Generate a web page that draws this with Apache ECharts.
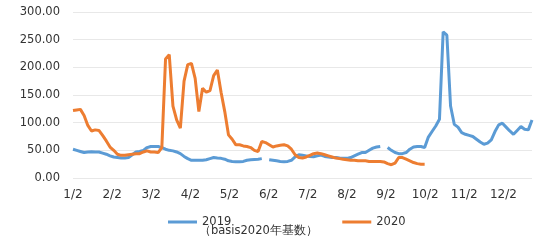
<!DOCTYPE html>
<html>
<head>
<meta charset="utf-8">
<script src="https://cdn.jsdelivr.net/npm/echarts@6/dist/echarts.min.js"></script>
<style>
html,body{margin:0;padding:0;background:#fff;}
#c{width:552px;height:245px;}
</style>
</head>
<body>
<div id="c"></div>
<script>
// Tick labels (one per month)
const tickLabels = ["1/2","2/2","3/2","4/2","5/2","6/2","7/2","8/2","9/2","10/2","11/2","12/2"];
// samples between two month labels (sample index is the x value)
const samplesPerTick = 10.57;
const lastSample = 124;

// 2019 series (basis)
const s2019 = [
  52,50,48,46,47,47.5,47,47,45,43,
  40,38,37,36,36,37,42,47,48,50,
  55,57,57,57,55,52,50,49,47,44,
  39,35,32,32,32,32,33,35,37,36,
  35.5,34,31,30,29.5,29.5,30,32,33,33.5,
  34,35,null,33,32,31,30,29.5,30,32,
  38,42,41,40,39,38.5,40,41.5,39,38,
  37,37,36,35.5,35.5,37,40,43,46,46,
  50,54,56,57,null,55,50,46,44,44,
  46,52,56,57,57,55,74,84,94,106,
  264,258,130,97,92,82,79,77,75,70,
  65,61,63,69,84,96,99,92,85,79,
  86,93,88,87,105
];

// 2020 series
const s2020 = [
  122,123,124,113,95,85,87,86,77,67,
  56,50,43,41,41,42,43,44,44,47,
  49,47,47,46,55,215,223,130,105,90,
  175,205,207,180,120,162,155,158,185,195,
  155,120,78,70,60,60,58,57,55,50,
  48,66,64,60,56,58,59,60,58,52,
  42,37,36,38,41,44,45,44,42,40,
  38,36,35,34,33,32,32,31,31,31,
  30,30,30,30,29,26,24,27,37,37,
  34,31,28,26,25,25
];

const seriesNames = ["2019","2020"];
const subtitle = "（basis2020年基数）";

const toPairs = arr => arr.map((v, i) => [i, v === null ? '-' : v]);

const chart = echarts.init(document.getElementById('c'), null, {renderer: 'canvas'});
const font = 'DejaVu Sans';
chart.setOption({
  animation: false,
  backgroundColor: '#ffffff',
  grid: {left: 73, right: 20, top: 12, bottom: 67, containLabel: false},
  legend: {
    left: 163, top: 211,
    itemWidth: 29, itemHeight: 3, itemGap: 111,
    icon: 'rect',
    textStyle: {fontFamily: font, fontSize: 11.5, color: '#333'},
    data: seriesNames
  },
  graphic: [{
    type: 'text', left: 199, top: 225,
    style: {text: subtitle, font: '11.5px "DejaVu Sans"', fill: '#333'}
  }],
  xAxis: {
    type: 'value',
    min: 0, max: lastSample, interval: samplesPerTick,
    axisLine: {show: false},
    axisTick: {show: false},
    axisLabel: {
      margin: 11,
      showMaxLabel: false,
      fontFamily: font, fontSize: 12, color: '#333',
      formatter: function (v) {
        const k = Math.round(v / samplesPerTick);
        return Math.abs(v - k * samplesPerTick) < 0.05 ? (tickLabels[k] || '') : '';
      }
    },
    splitLine: {show: false}
  },
  yAxis: {
    type: 'value',
    min: 0, max: 300, interval: 50,
    axisLine: {show: false},
    axisTick: {show: false},
    axisLabel: {
      margin: 13,
      fontFamily: font, fontSize: 11.5, color: '#333',
      formatter: function (v) { return v.toFixed(2); }
    },
    splitLine: {lineStyle: {color: '#e8e8e8', width: 1}}
  },
  series: [
    {
      name: seriesNames[0], type: 'line', data: toPairs(s2019),
      showSymbol: false, symbol: 'none', connectNulls: false,
      lineStyle: {color: '#5B9BD5', width: 3},
      itemStyle: {color: '#5B9BD5'}
    },
    {
      name: seriesNames[1], type: 'line', data: toPairs(s2020),
      showSymbol: false, symbol: 'none',
      lineStyle: {color: '#ED7D31', width: 3},
      itemStyle: {color: '#ED7D31'}
    }
  ]
});
</script>
</body>
</html>
